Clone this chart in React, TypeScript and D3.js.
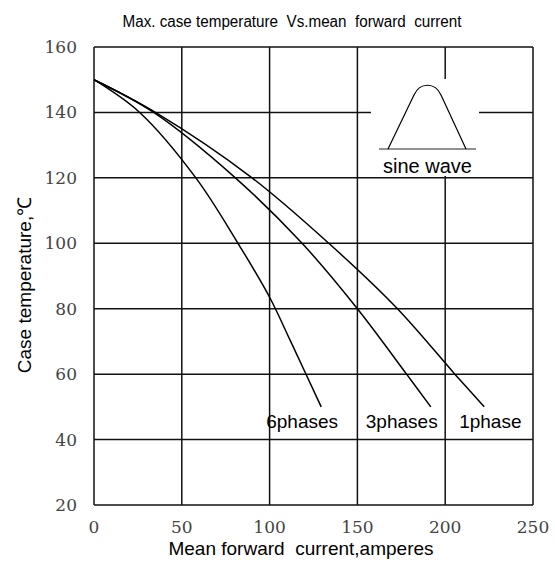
import React from 'react'
import * as d3 from 'd3'

// readings of the three curves, [current A, case temp C]
const sixPhases: [number, number][] = [
  [0, 150], [26, 140], [58, 120], [82, 100], [100, 83.5], [112, 70], [129.4, 50]
]
const threePhases: [number, number][] = [
  [0, 150], [34, 140], [80.5, 120], [118.5, 100], [150, 80], [178, 60], [191.8, 50]
]
const onePhase: [number, number][] = [
  [0, 150], [35, 140], [90, 120], [133.7, 100], [172.8, 80], [205.5, 60], [222.2, 50]
]
const curveLabels = ['6phases', '3phases', '1phase']
const xTicks = [0, 50, 100, 150, 200, 250]
const yTicks = [20, 40, 60, 80, 100, 120, 140, 160]

const width = 555
const height = 565
const serif = "'DejaVu Serif', serif"
const sans = 'Liberation Sans'

export default function App() {
  const x = d3.scaleLinear().domain([0, 250]).range([94, 533])
  const y = d3.scaleLinear().domain([20, 160]).range([505, 47])

  const line = d3.line<[number, number]>()
    .x(d => x(d[0]))
    .y(d => y(d[1]))
    .curve(d3.curveCatmullRom.alpha(0.5))

  const series = [sixPhases, threePhases, onePhase]
  const labelX = [x(129.4) - 55, x(191.8) - 65, x(222.2) - 25]

  return (
    <svg width={width} height={height} style={{ position: 'absolute', left: 0, top: 0, background: '#fff' }}>
      <text x={292} y={27} textAnchor="middle" style={{ fontFamily: sans, fontSize: 16, whiteSpace: 'pre' }}
        textLength={339} lengthAdjust="spacingAndGlyphs" fill="#000">
        Max. case temperature  Vs.mean  forward  current
      </text>

      {/* grid */}
      {xTicks.map(t => (
        <line key={'gx' + t} x1={x(t)} x2={x(t)} y1={y(20)} y2={y(160)} stroke="#111" strokeWidth={1.5} />
      ))}
      {yTicks.map(t => (
        <line key={'gy' + t} x1={x(0)} x2={x(250)} y1={y(t)} y2={y(t)} stroke="#111" strokeWidth={1.5} />
      ))}

      {/* tick labels */}
      {yTicks.map(t => (
        <text key={'ty' + t} x={x(0) - 17} y={y(t)} dy="0.35em" textAnchor="end"
          style={{ fontFamily: serif, fontSize: 17 }} fill="#444">{t}</text>
      ))}
      {xTicks.map(t => (
        <text key={'tx' + t} x={x(t)} y={527} dy="0.35em" textAnchor="middle"
          style={{ fontFamily: serif, fontSize: 17 }} fill="#444">{t}</text>
      ))}

      {/* curves */}
      {series.map((s, i) => (
        <path key={'c' + i} d={line(s) || ''} fill="none" stroke="#000" strokeWidth={1.5} />
      ))}
      {curveLabels.map((l, i) => (
        <text key={'l' + i} x={labelX[i]} y={428} style={{ fontFamily: sans, fontSize: 19 }} fill="#000">{l}</text>
      ))}

      {/* sine wave inset */}
      <rect x={371} y={79} width={108} height={97} fill="#fff" />
      <line x1={379} x2={476} y1={149} y2={149} stroke="#222" strokeWidth={1} />
      <path d="M388,149 L414,95 C420,82 435,82 441,95 L466,149" fill="none" stroke="#000" strokeWidth={1.2} />
      <text x={427.5} y={173} textAnchor="middle" style={{ fontFamily: sans, fontSize: 20 }} fill="#000">sine wave</text>

      {/* axis titles */}
      <text x={301} y={555} textAnchor="middle" style={{ fontFamily: sans, fontSize: 19, whiteSpace: 'pre' }} fill="#000">
        Mean forward  current,amperes
      </text>
      <text transform="translate(31,285) rotate(-90)" textAnchor="middle" style={{ fontFamily: sans, fontSize: 19 }} fill="#000">
        Case temperature,℃
      </text>
    </svg>
  )
}
